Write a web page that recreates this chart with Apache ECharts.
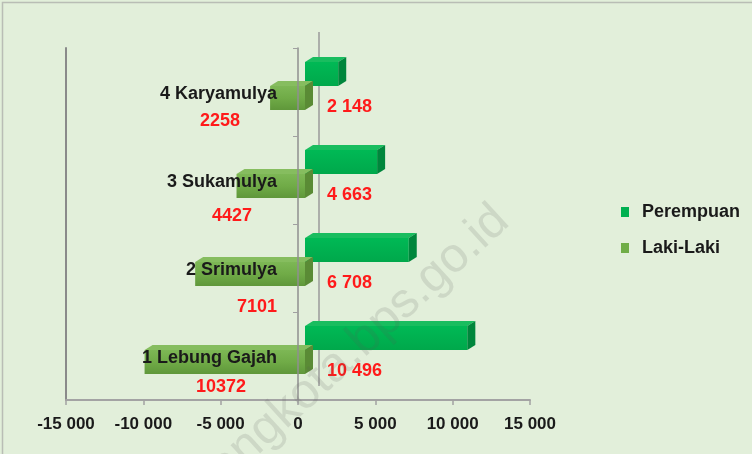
<!DOCTYPE html>
<html><head><meta charset="utf-8">
<script src="https://cdn.jsdelivr.net/npm/echarts@6/dist/echarts.min.js"></script>
<style>html,body{margin:0;padding:0;background:#e2efda;}#c{width:752px;height:454px;}</style>
</head><body><div id="c"></div>
<script>
// ---- data ----
const categories = ['1 Lebung Gajah', '2 Srimulya', '3 Sukamulya', '4 Karyamulya'];
const perempuan = [10496, 6708, 4663, 2148];
const lakiLaki = [10372, 7101, 4427, 2258];
const seriesNames = ['Perempuan', 'Laki-Laki'];
const xMin = -15000, xMax = 15000, xStep = 5000;
const watermark = 'palembangkota.bps.go.id';

// ---- layout / style (pixels) ----
const SHIFT = 7;            // bars sit a little behind the front plane
const DEPTH = [8, -5];      // 3D offset of top/side faces
const FONT = '"Liberation Sans", Arial, sans-serif';
const lakiLabelDx = [-77, -41, -66, -78];
const lakiLabelDy = [31, 39, 36, 29];
const catLabelDx = -21, catLabelDy = 2;

function spaced(v) {
  const s = String(Math.abs(v)).replace(/\B(?=(\d{3})+(?!\d))/g, ' ');
  return (v < 0 ? '-' : '') + s;
}

function make3D(opts) {
  return function (params, api) {
    const v = api.value(0), ci = api.value(1);
    const zero = api.coord([0, ci]);
    const end = api.coord([v, ci]);
    const band = api.size([0, 1])[1];
    const c = zero[1];
    const xa = Math.min(zero[0], end[0]) + SHIFT;
    const xb = Math.max(zero[0], end[0]) + SHIFT;
    const yt = c + opts.f0 * band, yb = c + opts.f1 * band;
    const dx = DEPTH[0], dy = DEPTH[1];
    const children = [
      { type: 'rect', shape: { x: xa, y: yt, width: xb - xa, height: yb - yt },
        style: { fill: new echarts.graphic.LinearGradient(0, 0, 0, 1, opts.front) } },
      { type: 'polygon', shape: { points: [[xa, yt], [xb, yt], [xb + dx, yt + dy], [xa + dx, yt + dy]] },
        style: { fill: opts.top } },
      { type: 'polygon', shape: { points: [[xb, yt], [xb + dx, yt + dy], [xb + dx, yb + dy], [xb, yb]] },
        style: { fill: opts.side } }
    ];
    opts.labels(ci, zero[0], c).forEach(l => children.push({
      type: 'text', x: l.x, y: l.y, z2: 10,
      style: { text: l.text, fill: l.color, font: 'bold 18px ' + FONT, align: l.align, verticalAlign: 'middle' }
    }));
    return { type: 'group', children };
  };
}

const chart = echarts.init(document.getElementById('c'), null, { renderer: 'canvas' });
chart.setOption({
  backgroundColor: '#e2efda',
  animation: false,
  grid: { left: 66, right: 222, top: 48, bottom: 54, containLabel: false, outerBoundsMode: 'none' },
  legend: {
    orient: 'vertical', left: 621, top: 202, padding: 0, itemWidth: 8, itemHeight: 10, itemGap: 16,
    icon: 'rect', data: seriesNames,
    textStyle: { fontSize: 18, fontWeight: 'bold', color: '#1a1a1a', fontFamily: FONT,
                 padding: [0, 0, 0, 8], lineHeight: 20 }
  },
  xAxis: {
    type: 'value', min: xMin, max: xMax, interval: xStep,
    splitLine: { show: false },
    axisLine: { show: true, lineStyle: { color: '#a3a3a3', width: 2 } },
    axisTick: { show: true, length: 5, lineStyle: { color: '#a3a3a3', width: 1.5 } },
    axisLabel: { fontSize: 17, fontWeight: 'bold', color: '#1a1a1a', fontFamily: FONT,
                 margin: 16, formatter: spaced }
  },
  yAxis: [{
    type: 'category', data: categories, z: 5,
    axisLine: { show: true, onZero: true, lineStyle: { color: '#8f8f8f', width: 1.5 } },
    axisTick: { show: true, length: 5, lineStyle: { color: '#a0a0a0' } },
    axisLabel: { show: false }
  }, {
    type: 'category', data: categories, position: 'left',
    axisLine: { show: true, onZero: false, lineStyle: { color: '#8a8a8a', width: 2 } },
    axisTick: { show: false }, axisLabel: { show: false }
  }],
  graphic: [
    { type: 'rect', shape: { x: 2.5, y: 2.5, width: 800, height: 500 },
      style: { fill: 'none', stroke: '#b9bdb5', lineWidth: 1.5 }, silent: true },
    { type: 'text', x: 502, y: 214, rotation: 0.74, z: 100, silent: true,
      style: { text: watermark, fill: 'rgba(90,90,90,0.15)', font: '49px ' + FONT,
               align: 'right', verticalAlign: 'middle' } }
  ],
  series: [
    { // back wall line
      type: 'custom', z: 1, silent: true, data: [[0, 0]],
      renderItem: function (params, api) {
        const p = api.coord([0, 0]);
        const cs = params.coordSys;
        return { type: 'line', shape: { x1: p[0] + 21, y1: cs.y - 16, x2: p[0] + 21, y2: cs.y + cs.height - 14 },
                 style: { stroke: '#9a9a9a', lineWidth: 1.5 } };
      }
    },
    {
      name: seriesNames[0], type: 'custom', z: 2,
      itemStyle: { color: '#00b050' },
      encode: { x: 0, y: 1 },
      data: perempuan.map((v, i) => [v, i]),
      renderItem: make3D({
        f0: -0.34, f1: -0.068,
        front: [{ offset: 0, color: '#00b955' }, { offset: 1, color: '#00a84b' }],
        top: '#19bd5f', side: '#00863c',
        labels: (ci, x0, c) => [{ text: spaced(perempuan[ci]), x: x0 + 29, y: c + 15, align: 'left', color: '#ff1a1a' }]
      })
    },
    {
      name: seriesNames[1], type: 'custom', z: 3,
      itemStyle: { color: '#70ad47' },
      encode: { x: 0, y: 1 },
      data: lakiLaki.map((v, i) => [-v, i]),
      renderItem: make3D({
        f0: -0.068, f1: 0.205,
        front: [{ offset: 0, color: '#7db755' }, { offset: 0.5, color: '#70ab47' }, { offset: 1, color: '#5f973a' }],
        top: '#86bd5f', side: '#5a8b35',
        labels: (ci, x0, c) => [
          { text: String(lakiLaki[ci]), x: x0 + lakiLabelDx[ci], y: c + lakiLabelDy[ci], align: 'center', color: '#ff1a1a' },
          { text: categories[ci], x: x0 + catLabelDx, y: c + catLabelDy, align: 'right', color: '#1a1a1a' }
        ]
      })
    }
  ]
});
</script></body></html>
